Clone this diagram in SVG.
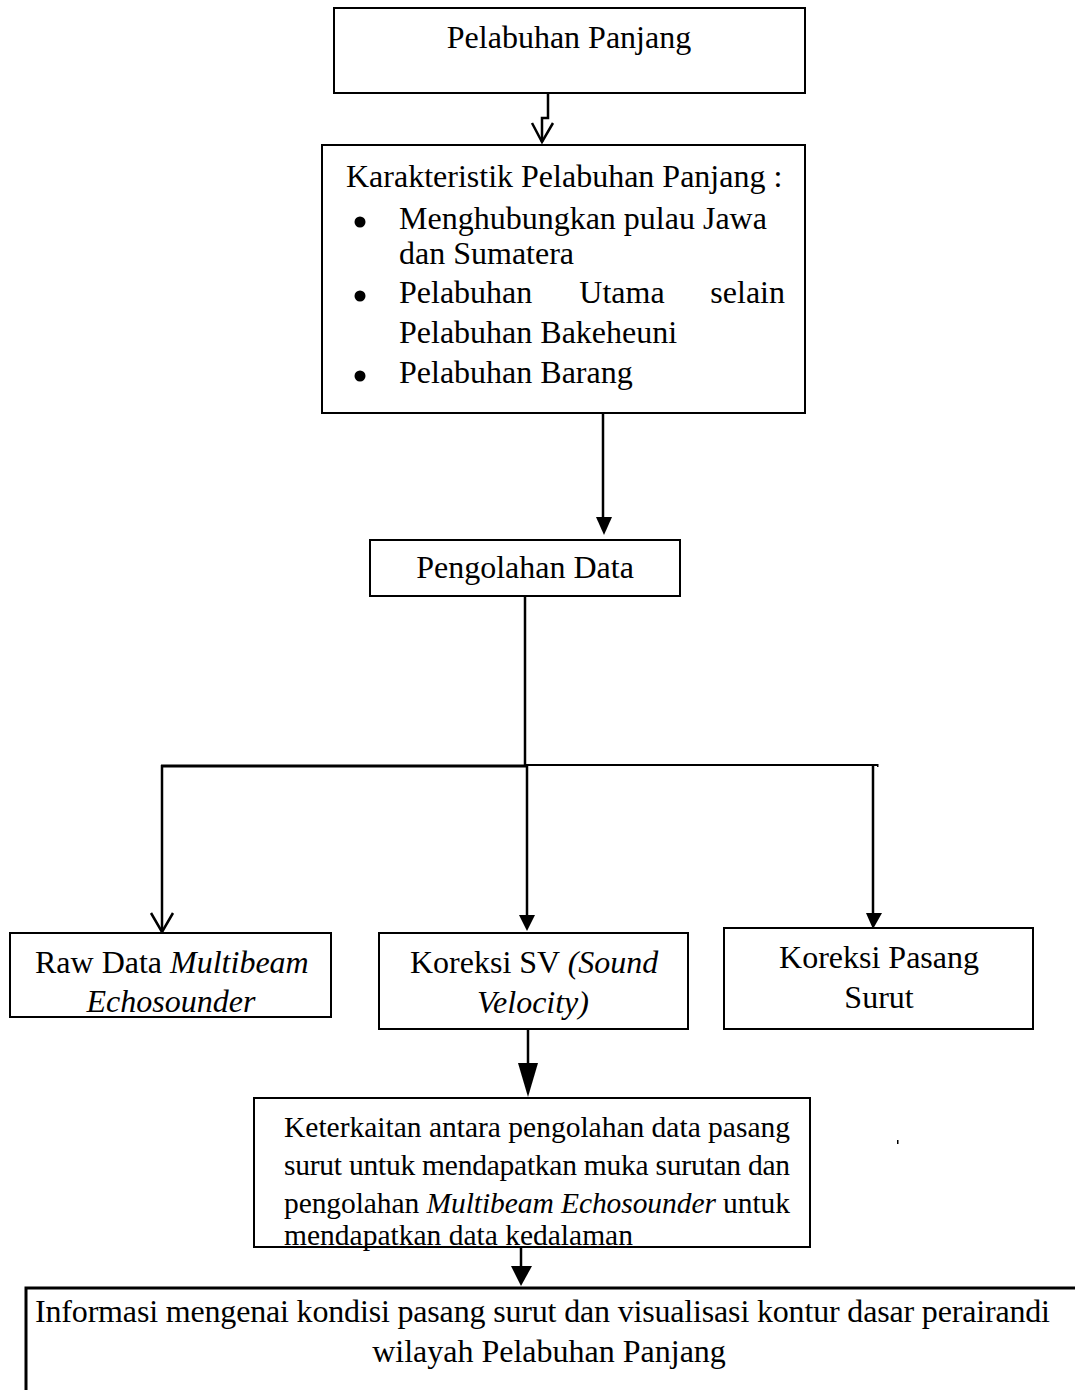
<svg xmlns="http://www.w3.org/2000/svg" width="1075" height="1390" viewBox="0 0 1075 1390">
<style>
.box{fill:#fff;stroke:#000;stroke-width:2}
.t{font-family:"Liberation Serif","Times New Roman",serif;font-size:32px;fill:#000}
.s{font-family:"Liberation Serif","Times New Roman",serif;font-size:29.5px;fill:#000}
.c{text-anchor:middle}
.i{font-style:italic}
.ln{fill:none;stroke:#000;stroke-width:2.5}
</style>
<rect x="0" y="0" width="1075" height="1390" fill="#fff"/>
<g id="connectors">
  <polyline class="ln" points="548,93 548,118 542,118 542,142"/>
  <polyline class="ln" points="532,123 542,142 553,123"/>
  <line class="ln" x1="603" y1="413" x2="603" y2="520"/>
  <polygon points="596,517 612,517 604,535"/>
  <line class="ln" x1="525" y1="596" x2="525" y2="766" stroke-width="3"/>
  <line x1="161" y1="766" x2="526" y2="766" stroke="#000" stroke-width="3"/>
  <line x1="525" y1="765" x2="878" y2="765" stroke="#000" stroke-width="1.8"/>
  <rect x="877" y="764" width="1.5" height="3" fill="#000"/>
  <line class="ln" x1="162" y1="765" x2="162" y2="932" stroke-width="3"/>
  <polyline class="ln" points="151,913 162,932 173,913" stroke-width="3"/>
  <line class="ln" x1="527" y1="765" x2="527" y2="918"/>
  <polygon points="519,915 535,915 527,931"/>
  <line class="ln" x1="873" y1="765" x2="873" y2="915" stroke-width="3"/>
  <polygon points="866,913 882,913 873,929"/>
  <line class="ln" x1="528" y1="1029" x2="528" y2="1066" stroke-width="3"/>
  <polygon points="518,1063 538,1063 528,1097"/>
  <line class="ln" x1="521" y1="1247" x2="521" y2="1270" stroke-width="3"/>
  <polygon points="511,1266 532,1266 521,1286"/>
  <rect x="897" y="1140" width="1.5" height="4" fill="#000"/>
</g>
<g id="n1">
  <rect class="box" x="334" y="8" width="471" height="85"/>
  <text class="t c" x="569" y="48">Pelabuhan Panjang</text>
</g>
<g id="n2">
  <rect class="box" x="322" y="145" width="483" height="268"/>
  <text class="t" x="346" y="187">Karakteristik Pelabuhan Panjang :</text>
  <circle cx="360" cy="222" r="5.5"/>
  <text class="t" x="399" y="229">Menghubungkan pulau Jawa</text>
  <text class="t" x="399" y="264">dan Sumatera</text>
  <circle cx="360" cy="296" r="5.5"/>
  <text class="t" x="399" y="303">Pelabuhan</text>
  <text class="t c" x="622" y="303">Utama</text>
  <text class="t" x="785" y="303" text-anchor="end">selain</text>
  <text class="t" x="399" y="343">Pelabuhan Bakeheuni</text>
  <circle cx="360" cy="376" r="5.5"/>
  <text class="t" x="399" y="383">Pelabuhan Barang</text>
</g>
<g id="n3">
  <rect class="box" x="370" y="540" width="310" height="56"/>
  <text class="t c" x="525" y="578">Pengolahan Data</text>
</g>
<g id="n4">
  <rect class="box" x="10" y="933" width="321" height="84"/>
  <text class="t" x="35" y="973">Raw Data <tspan class="i">Multibeam</tspan></text>
  <text class="t c i" x="171" y="1012">Echosounder</text>
</g>
<g id="n5">
  <rect class="box" x="379" y="933" width="309" height="96"/>
  <text class="t" x="410" y="973">Koreksi SV <tspan class="i">(Sound</tspan></text>
  <text class="t c i" x="533" y="1013">Velocity)</text>
</g>
<g id="n6">
  <rect class="box" x="724" y="928" width="309" height="101"/>
  <text class="t c" x="879" y="968">Koreksi Pasang</text>
  <text class="t c" x="879" y="1008">Surut</text>
</g>
<g id="n7">
  <rect class="box" x="254" y="1098" width="556" height="149"/>
  <text class="s" x="284" y="1137" textLength="506" lengthAdjust="spacing">Keterkaitan antara pengolahan data pasang</text>
  <text class="s" x="284" y="1175" textLength="506" lengthAdjust="spacing">surut untuk mendapatkan muka surutan dan</text>
  <text class="s" x="284" y="1213" textLength="506" lengthAdjust="spacing">pengolahan <tspan class="i">Multibeam Echosounder</tspan> untuk</text>
  <text class="s" x="284" y="1245">mendapatkan data kedalaman</text>
</g>
<g id="n8">
  <polyline points="26,1392 26,1288 1078,1288" fill="none" stroke="#000" stroke-width="3"/>
  <text class="t" x="35" y="1322" textLength="1015" lengthAdjust="spacing">Informasi mengenai kondisi pasang surut dan visualisasi kontur dasar perairandi</text>
  <text class="t c" x="549" y="1362">wilayah Pelabuhan Panjang</text>
</g>
</svg>
